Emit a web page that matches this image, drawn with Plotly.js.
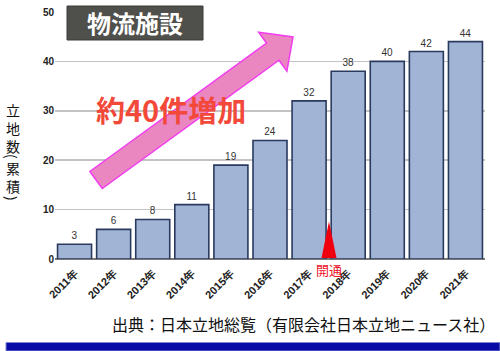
<!DOCTYPE html>
<html>
<head>
<meta charset="utf-8">
<script src="https://cdn.plot.ly/plotly-3.0.1.min.js"></script>
<style>html,body{margin:0;padding:0;background:#fff;}#chart{width:500px;height:351px;}</style>
</head>
<body>
<div id="chart"></div>
<script>
// Data
const years = ["2011年","2012年","2013年","2014年","2015年","2016年","2017年","2018年","2019年","2020年","2021年"];
const counts = [3, 6, 8, 11, 19, 24, 32, 38, 40, 42, 44];
const chartTitle = "物流施設";
const increaseText = "約40件増加";
const openingText = "開通";
const yTitleParts = ["立地数", "(", "累積", ")"];
const sourceText = "出典：日本立地総覧（有限会社日本立地ニュース社）";

// Layout helpers (pixel -> paper)
const L = 55, R = 485, T = 12, B = 259;
const px = x => (x - L) / (R - L);
const py = y => (B - y) / (B - T);

const trace = {
  type: 'bar',
  x: years,
  y: counts,
  marker: {color: '#a2b4d5', line: {color: '#2a3a5e', width: 1.6}},
  text: counts.map(String),
  textposition: 'outside',
  textfont: {family: 'Liberation Sans, Arial, sans-serif', size: 10, color: '#333'},
  cliponaxis: false,
  hoverinfo: 'skip'
};

// Arrow polygon (pixel coords)
const arrowPts = [[89.8,171.5],[266.6,43.2],[258.7,32.3],[293,37],[286.9,71.1],[279,60.2],[102.2,188.5]];
const arrowPath = 'M ' + arrowPts.map(p => px(p[0]).toFixed(4) + ',' + py(p[1]).toFixed(4)).join(' L ') + ' Z';
const triPath = 'M ' + [[321.5,258],[329,221.5],[336.5,258]].map(p => px(p[0]).toFixed(4) + ',' + py(p[1]).toFixed(4)).join(' L ') + ' Z';

const shapes = [
  {type: 'rect', xref: 'paper', yref: 'paper', x0: px(67), x1: px(203), y0: py(40), y1: py(6),
   fillcolor: '#4f4f4b', line: {color: '#3a3a38', width: 1}, layer: 'above'},
  {type: 'path', xref: 'paper', yref: 'paper', path: arrowPath,
   fillcolor: '#ea86c0', line: {color: '#f23cf0', width: 1.5}, layer: 'above'},
  {type: 'path', xref: 'paper', yref: 'paper', path: triPath,
   fillcolor: '#f0000f', line: {width: 0}, layer: 'above'},
  {type: 'rect', xref: 'paper', yref: 'paper', x0: px(6), x1: px(500), y0: py(351), y1: py(342.5),
   fillcolor: '#0a0aa6', line: {color: '#7f86d0', width: 1}, layer: 'above'}
];

const cjk = '"Noto Sans CJK JP", sans-serif';
const annotations = [
  {xref: 'paper', yref: 'paper', x: px(135), y: py(23), text: '<b>' + chartTitle + '</b>', showarrow: false,
   font: {family: cjk, size: 24, color: '#ffffff'}, xanchor: 'center', yanchor: 'middle'},
  {xref: 'paper', yref: 'paper', x: px(171), y: py(109), text: '<b>' + increaseText + '</b>', showarrow: false,
   font: {family: cjk, size: 29, color: '#f2493a'}, xanchor: 'center', yanchor: 'middle'},
  {xref: 'paper', yref: 'paper', x: px(329), y: py(269), text: openingText, showarrow: false,
   font: {family: cjk, size: 13, color: '#ee0f1e'}, xanchor: 'center', yanchor: 'middle'},
  {xref: 'paper', yref: 'paper', x: px(497), y: py(324), text: sourceText, showarrow: false,
   font: {family: cjk, size: 16, color: '#111'}, xanchor: 'right', yanchor: 'middle'}
];
// Vertical y-axis title: stacked characters, parentheses turned
const yPartPos = [127.5, 156.5, 176.5, 198.5];
yTitleParts.forEach((s, i) => {
  const isParen = (s === '(' || s === ')');
  annotations.push({xref: 'paper', yref: 'paper', x: px(12.5), y: py(yPartPos[i]),
    text: isParen ? s : s.split('').join('<br>'), showarrow: false,
    textangle: isParen ? 90 : 0,
    font: {family: cjk, size: 14, color: '#111'}, xanchor: 'center', yanchor: 'middle'});
});

const layout = {
  width: 500, height: 351,
  margin: {l: L, r: 500 - R, t: T, b: 351 - B, pad: 0},
  paper_bgcolor: '#ffffff', plot_bgcolor: '#ffffff',
  showlegend: false,
  bargap: 0.13,
  xaxis: {type: 'category', tickangle: -45, showgrid: false, ticks: '', ticklabelstandoff: 5,
    tickfont: {family: 'Liberation Sans, Arial, sans-serif', size: 11, color: '#222', weight: 'bold'},
    showline: false},
  yaxis: {range: [0, 50], dtick: 10, showgrid: true, gridcolor: '#c4c4c4', gridwidth: 1.5,
    zeroline: true, zerolinecolor: '#777', zerolinewidth: 1.5, ticks: '',
    tickfont: {family: 'Liberation Sans, Arial, sans-serif', size: 10, color: '#222', weight: 'bold'}},
  shapes: shapes,
  annotations: annotations
};

Plotly.newPlot('chart', [trace], layout, {displayModeBar: false, staticPlot: true});
</script>
</body>
</html>
